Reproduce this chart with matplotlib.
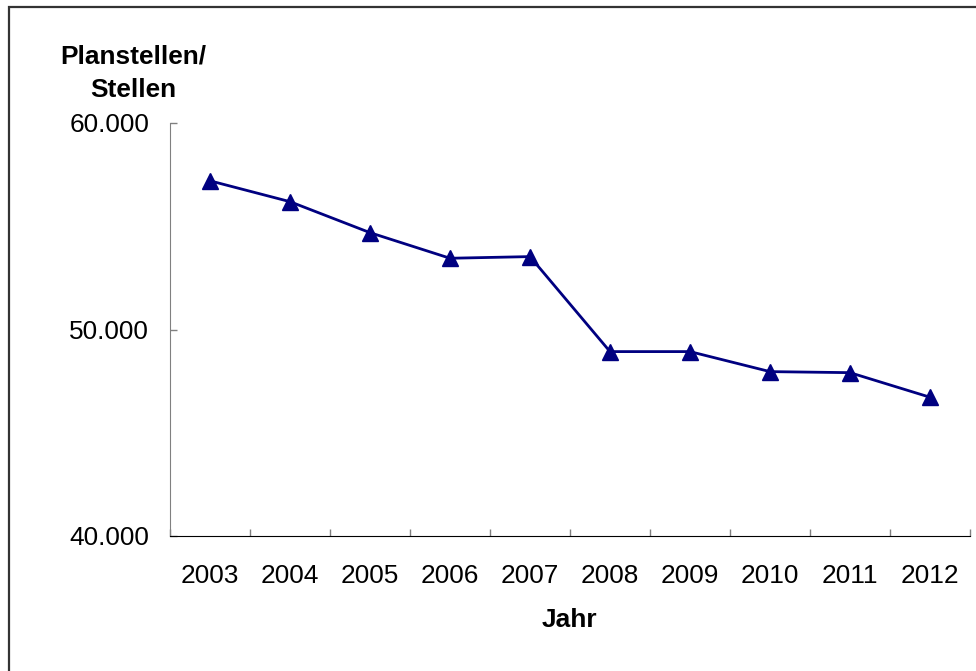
import matplotlib
matplotlib.use("Agg")
import matplotlib.pyplot as plt
from matplotlib.patches import Rectangle
from matplotlib.ticker import FuncFormatter

# Planstellen/Stellen per year
years = ["2003", "2004", "2005", "2006", "2007", "2008", "2009", "2010", "2011", "2012"]
stellen = [57200, 56190, 54690, 53450, 53530, 48930, 48930, 47960, 47910, 46720]
y_ticks = [40000, 50000, 60000]

plt.rcParams["font.family"] = ["Liberation Sans", "DejaVu Sans"]
FS = 18.9

W, H = 976, 671
fig = plt.figure(figsize=(W / 100, H / 100), dpi=100)
ax = fig.add_axes([170 / W, (H - 536) / H, 800 / W, (536 - 123) / H])

# categories sit between the boundary ticks
xpos = [i + 0.5 for i in range(len(years))]
ax.plot(xpos, stellen, color="#000080", lw=2.0, marker="^", ms=12,
        markerfacecolor="#000080", markeredgecolor="#000080", clip_on=False)

ax.set_xlim(0, len(years))
ax.set_ylim(40000, 60000)
ax.set_yticks(y_ticks)
ax.yaxis.set_major_formatter(FuncFormatter(lambda v, p: f"{int(v):,}".replace(",", ".")))
ax.set_xticks(range(len(years) + 1))
ax.set_xticks(xpos, minor=True)
ax.set_xticklabels([])
ax.set_xticklabels(years, minor=True)

ax.tick_params(axis="y", direction="in", length=5, width=1, color="#808080",
               labelsize=FS, pad=15)
ax.tick_params(axis="x", which="major", direction="in", length=5, width=1, color="#808080")
ax.tick_params(axis="x", which="minor", length=0, labelsize=FS, pad=20)

for s in ["top", "right"]:
    ax.spines[s].set_visible(False)
ax.spines["left"].set_color("#808080")
ax.spines["bottom"].set_color("black")

fig.text(133 / W, 1 - 57 / H, "Planstellen/", ha="center", va="center",
         fontsize=FS, fontweight="bold")
fig.text(133 / W, 1 - 90 / H, "Stellen", ha="center", va="center",
         fontsize=FS, fontweight="bold")
fig.text(569 / W, 1 - 620 / H, "Jahr", ha="center", va="center",
         fontsize=FS, fontweight="bold")

# outer chart frame
fig.patches.append(Rectangle((8.5 / W, -0.1), 1.2, 1.1 - 6.5 / H, transform=fig.transFigure,
                             fill=False, edgecolor="#333333", lw=1.6))

fig.savefig("out.png", dpi=100)
